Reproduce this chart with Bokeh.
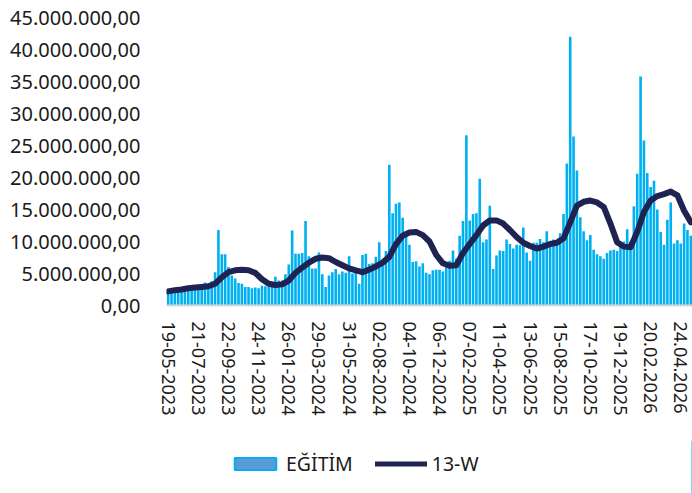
from bokeh.plotting import figure
from bokeh.layouts import column
from bokeh.models import FixedTicker, Legend, LegendItem, ColumnDataSource, Range1d
from bokeh.embed import file_html
from bokeh.resources import INLINE

# ---- data (values in millions) ----
egitim_m = [
    2.2, 2.3, 2.5, 2.4, 2.9, 2.8, 2.7, 2.6, 3.0, 2.7,
    2.9, 3.6, 3.4, 3.8, 5.2, 11.8, 8.0, 8.0, 6.0, 4.7,
    4.2, 3.5, 3.4, 2.9, 2.9, 2.7, 2.8, 2.7, 3.1, 3.0,
    2.9, 3.2, 4.5, 3.9, 3.9, 4.9, 6.4, 11.7, 8.1, 8.1,
    8.2, 13.2, 7.7, 5.8, 5.8, 8.3, 4.9, 2.9, 4.7, 5.2,
    5.7, 4.9, 5.3, 5.1, 7.7, 5.0, 5.7, 3.4, 7.9, 8.1,
    6.5, 6.6, 7.6, 9.9, 6.7, 8.5, 22.0, 14.4, 15.9, 16.1,
    13.7, 10.7, 9.5, 6.8, 6.9, 6.1, 6.6, 5.1, 4.9, 5.5,
    5.6, 5.6, 5.3, 6.0, 7.0, 8.6, 7.3, 10.9, 13.2, 26.6,
    13.3, 14.3, 14.4, 19.8, 9.9, 10.3, 15.6, 5.7, 7.8, 8.6,
    8.5, 10.3, 9.6, 8.9, 9.5, 9.4, 12.2, 8.3, 7.0, 9.8,
    9.8, 10.4, 9.9, 11.6, 10.0, 10.3, 10.2, 11.3, 14.3, 22.2,
    42.0, 26.4, 21.1, 13.8, 11.6, 10.2, 11.0, 8.7, 8.0, 7.7,
    7.3, 8.2, 8.6, 8.7, 8.5, 10.0, 10.0, 11.9, 10.0, 15.5,
    20.6, 35.8, 25.8, 20.7, 18.5, 19.5, 15.0, 11.5, 9.5, 13.4,
    16.1, 9.7, 10.2, 9.7, 12.8, 11.8, 10.9,
]

line_weeks = list(range(0, 157, 2))
line_13w_m = [
    2.2, 2.4, 2.5, 2.7, 2.8, 2.9, 3.0, 3.4, 4.4, 5.2,
    5.5, 5.6, 5.5, 5.1, 4.1, 3.4, 3.2, 3.3, 3.9, 5.1,
    5.9, 6.7, 7.3, 7.5, 7.4, 6.8, 6.3, 5.8, 5.5, 5.2,
    5.6, 6.1, 6.7, 7.6, 9.6, 10.9, 11.4, 11.5, 11.0, 10.0,
    7.9, 6.6, 6.2, 6.3, 8.2, 9.6, 11.0, 12.5, 13.3, 13.3,
    12.8, 11.8, 10.7, 9.8, 9.3, 8.9, 9.2, 9.6, 9.8, 10.5,
    13.0, 15.6, 16.2, 16.4, 16.1, 15.4, 12.8, 9.9, 9.2, 9.1,
    11.5, 14.6, 16.4, 17.1, 17.4, 17.8, 17.2, 14.8, 13.0,
]

x_tick_weeks = [0, 9, 18, 27, 36, 45, 54, 63, 72, 81, 90, 99, 108, 117, 126, 135, 144, 153]
x_tick_labels = ["19-05-2023", "21-07-2023", "22-09-2023", "24-11-2023", "26-01-2024",
                 "29-03-2024", "31-05-2024", "02-08-2024", "04-10-2024", "06-12-2024",
                 "07-02-2025", "11-04-2025", "13-06-2025", "15-08-2025", "17-10-2025",
                 "19-12-2025", "20.02.2026", "24.04.2026"]

y_ticks = [0, 5e6, 10e6, 15e6, 20e6, 25e6, 30e6, 35e6, 40e6, 45e6]
y_tick_labels = ["0,00", "5.000.000,00", "10.000.000,00", "15.000.000,00", "20.000.000,00",
                 "25.000.000,00", "30.000.000,00", "35.000.000,00", "40.000.000,00",
                 "45.000.000,00"]

series_names = ["EĞİTİM", "13-W"]

# ---- styles ----
FONT = "Noto Sans"
BAR_COLOR = "#00B0F0"
LINE_COLOR = "#1F2352"
TEXT_COLOR = "#1a1a1a"

# ---- main chart ----
weeks = list(range(len(egitim_m)))
bar_src = ColumnDataSource(dict(x=weeks, top=[v * 1e6 for v in egitim_m]))
line_src = ColumnDataSource(dict(x=line_weeks, y=[v * 1e6 for v in line_13w_m]))

p = figure(width=692, height=440, output_backend="svg", toolbar_location=None,
           x_range=Range1d(-0.5, len(weeks) - 0.5), y_range=Range1d(0, 45e6),
           min_border_left=166, min_border_top=17, min_border_right=0, min_border_bottom=135)
p.outline_line_color = None
p.xgrid.grid_line_color = None
p.ygrid.grid_line_color = None

p.vbar(x="x", top="top", width=0.78, source=bar_src, fill_color=BAR_COLOR, line_color=None)
p.line(x="x", y="y", source=line_src, line_color=LINE_COLOR, line_width=6,
       line_join="round", line_cap="round")

ya = p.yaxis[0]
ya.ticker = FixedTicker(ticks=y_ticks)
ya.major_label_overrides = {t: l for t, l in zip(y_ticks, y_tick_labels)}
ya.axis_line_color = None
ya.major_tick_line_color = None
ya.minor_tick_line_color = None
ya.major_label_standoff = 20
ya.major_label_text_font = FONT
ya.major_label_text_font_size = "20px"
ya.major_label_text_color = TEXT_COLOR

xa = p.xaxis[0]
xa.ticker = FixedTicker(ticks=x_tick_weeks)
xa.major_label_overrides = {t: l for t, l in zip(x_tick_weeks, x_tick_labels)}
xa.major_label_orientation = "vertical"
xa.axis_line_color = "#D9D9D9"
xa.axis_line_width = 2
xa.major_tick_line_color = None
xa.minor_tick_line_color = None
xa.major_label_standoff = 10
xa.major_label_text_font = FONT
xa.major_label_text_font_size = "18px"
xa.major_label_text_color = TEXT_COLOR

# ---- legend strip (frame aligned with the chart above) ----
lg = figure(width=692, height=53, output_backend="svg", toolbar_location=None,
            x_range=Range1d(0, 1), y_range=Range1d(0, 1),
            min_border_left=0, min_border_right=0, min_border_top=0, min_border_bottom=0)
lg.axis.visible = False
lg.xgrid.grid_line_color = None
lg.ygrid.grid_line_color = None
lg.outline_line_color = None
# swatch-only renderers, placed outside the visible range
r_bar = lg.vbar(x=[5], top=[5], width=0.8, fill_color="#5B9BD5", line_color=BAR_COLOR, line_width=2)
r_line = lg.line(x=[5, 6], y=[5, 5], line_color=LINE_COLOR, line_width=5, line_cap="round")

legend = Legend(items=[LegendItem(label=series_names[0], renderers=[r_bar]),
                       LegendItem(label=series_names[1], renderers=[r_line])],
                location=(63, 16), orientation="horizontal",
                glyph_width=52, glyph_height=15, label_standoff=5, spacing=22,
                padding=0, margin=0, border_line_color=None, background_fill_alpha=0,
                label_text_font=FONT, label_text_font_size="19.5px",
                label_text_color=TEXT_COLOR)
lg.add_layout(legend)

open("out.html", "w").write(file_html(column(p, lg, spacing=0), INLINE))
